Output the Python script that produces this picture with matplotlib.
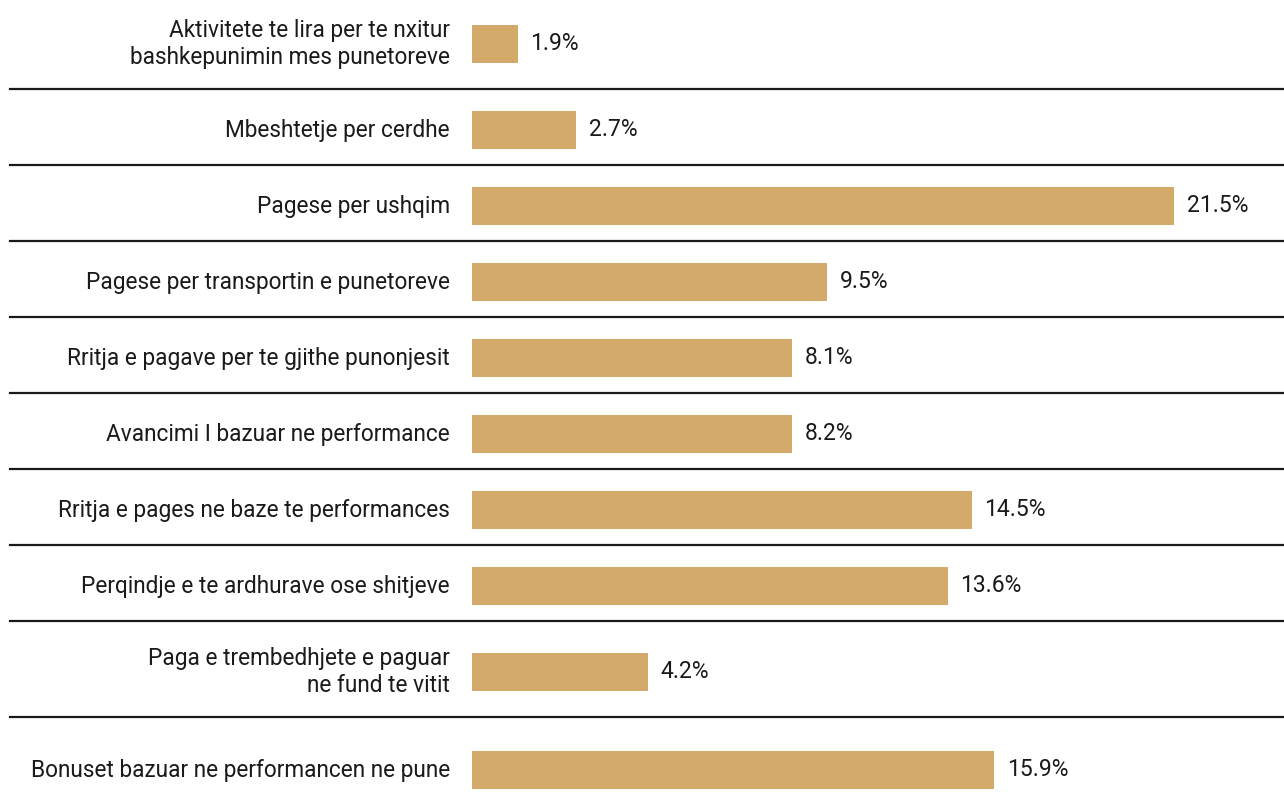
import numpy as np
import matplotlib
matplotlib.use('Agg')
import matplotlib.pyplot as plt

categories = [
    'Aktivitete te lira per te nxitur\nbashkepunimin mes punetoreve',
    'Mbeshtetje per cerdhe',
    'Pagese per ushqim',
    'Pagese per transportin e punetoreve',
    'Rritja e pagave per te gjithe punonjesit',
    'Avancimi I bazuar ne performance',
    'Rritja e pages ne baze te performances',
    'Perqindje e te ardhurave ose shitjeve',
    'Paga e trembedhjete e paguar\nne fund te vitit',
    'Bonuset bazuar ne performancen ne pune',
]
# bar lengths as drawn in the picture, and the printed labels
bar_lengths = [1.41, 3.19, 21.5, 10.87, 9.80, 9.80, 15.31, 14.58, 5.39, 15.99]
pct_labels = ['1.9%', '2.7%', '21.5%', '9.5%', '8.1%', '8.2%', '14.5%', '13.6%', '4.2%', '15.9%']

# row heights in pixels (figure is 810 px tall), first row starts a bit above the top edge
row_h = [96, 76, 76, 76, 76, 76, 76, 76, 96, 100]
start = -7

plt.rcParams['font.family'] = ['Roboto', 'DejaVu Sans']
color = '#D3AA69'
txt = '#1a1a1a'

fig = plt.figure(figsize=(12.84, 8.10), dpi=100)
ax = fig.add_axes([0, 0, 1, 1])
ppu = 702 / 21.5  # pixels per unit
ax.set_xlim(-472 / ppu, (1284 - 472) / ppu)
ax.set_ylim(810, 0)
ax.axis('off')

edges = start + np.cumsum(row_h)
tops = np.concatenate([[start], edges[:-1]])
centers = tops + np.array(row_h) / 2 + 3

ax.barh(centers, bar_lengths, height=38, color=color, left=0)

for c, cat, v, lab in zip(centers, categories, bar_lengths, pct_labels):
    ax.annotate(cat, (0, c), xytext=(-16, 0), textcoords='offset points',
                ha='right', va='center', fontsize=16.3, color=txt, linespacing=1.25)
    ax.annotate(lab, (v, c), xytext=(9, 0), textcoords='offset points',
                ha='left', va='center', fontsize=16.5, color=txt)

for b in edges[:-1]:
    ax.axhline(b, xmin=10 / 1284, xmax=1, color='#1a1a1a', lw=1.6)

fig.savefig('out.png', dpi=100)
